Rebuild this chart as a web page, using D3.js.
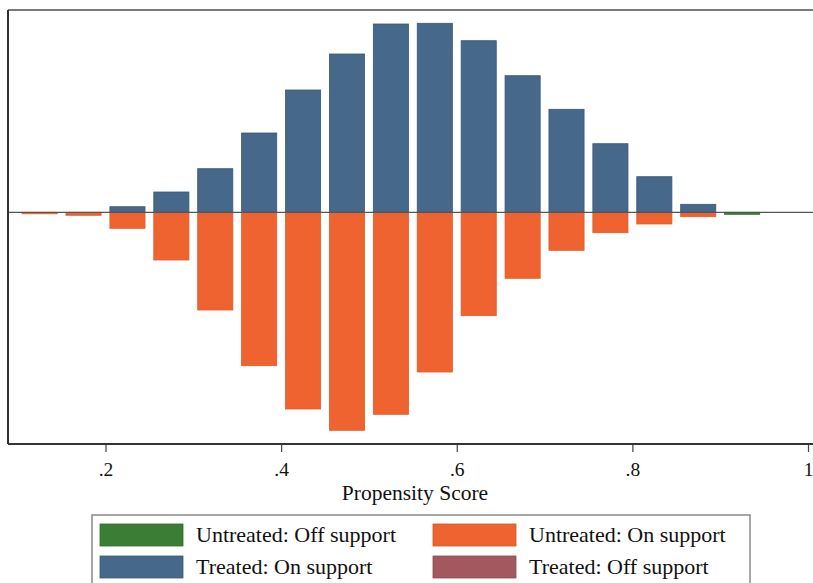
<!DOCTYPE html>
<html>
<head>
<meta charset="utf-8">
<script src="https://cdn.jsdelivr.net/npm/d3@7"></script>
<style>
  html, body { margin: 0; padding: 0; background: #fff; }
  svg { display: block; }
  text { font-family: "Liberation Serif", "Times New Roman", serif; fill: #111; }
</style>
</head>
<body>
<svg id="chart" width="813" height="583"></svg>
<script>
// Propensity score bins (bin midpoints, width 0.05)
const binMid = [0.125, 0.175, 0.225, 0.275, 0.325, 0.375, 0.425, 0.475, 0.525,
                0.575, 0.625, 0.675, 0.725, 0.775, 0.825, 0.875, 0.925];
// Density of each group per bin (drawn up for treated, down for untreated)
const treatedOn    = [0, 0, 0.56, 2.03, 4.36, 7.93, 12.23, 15.83, 18.83,
                      18.9, 17.16, 13.66, 10.3, 6.86, 3.56, 0.8, 0];
const treatedOff   = [0, 0, 0, 0, 0, 0, 0, 0, 0, 0, 0, 0, 0, 0, 0, 0, 0];
const untreatedOn  = [0.15, 0.3, 1.6, 4.77, 9.77, 15.34, 19.67, 21.8, 20.2,
                      15.97, 10.34, 6.6, 3.8, 2.04, 1.17, 0.44, 0];
const untreatedOff = [0, 0, 0, 0, 0, 0, 0, 0, 0, 0, 0, 0, 0, 0, 0, 0, 0.2];
const xTicks = [0.2, 0.4, 0.6, 0.8, 1];
const xTickLabels = [".2", ".4", ".6", ".8", "1"];
const xTitle = "Propensity Score";
const legendItems = [
  { label: "Untreated: Off support", color: "#3b7d34" },
  { label: "Untreated: On support",  color: "#ee6330" },
  { label: "Treated: On support",    color: "#46688a" },
  { label: "Treated: Off support",   color: "#a3585f" }
];

const svg = d3.select("#chart");
const plot = { left: 8, top: 10, right: 816, bottom: 444 };
const barWidth = 0.04;

const x = d3.scaleLinear().domain([0.2, 1]).range([105.5, 808]);
const y = d3.scaleLinear().domain([-23.17, 20.23]).range([plot.bottom, plot.top]);

const colors = {
  treatedOn: "#46688a", treatedOff: "#a3585f",
  untreatedOn: "#ee6330", untreatedOff: "#3b7d34"
};
const strokes = {
  treatedOn: "#3a5878", treatedOff: "#8e4a50",
  untreatedOn: "#e35a28", untreatedOff: "#336f2d"
};

const g = svg.append("g");

function drawBars(values, key, sign) {
  g.append("g").selectAll("rect")
    .data(values.map((v, i) => ({ mid: binMid[i], v })).filter(d => d.v > 0))
    .join("rect")
    .attr("x", d => x(d.mid - barWidth / 2))
    .attr("width", d => x(d.mid + barWidth / 2) - x(d.mid - barWidth / 2))
    .attr("y", d => sign > 0 ? y(d.v) : y(0))
    .attr("height", d => Math.max(1, Math.abs(y(d.v) - y(0))))
    .attr("fill", colors[key])
    .attr("stroke", strokes[key])
    .attr("stroke-width", 0.8);
}

drawBars(untreatedOn, "untreatedOn", -1);
drawBars(untreatedOff, "untreatedOff", -1);
drawBars(treatedOn, "treatedOn", 1);
drawBars(treatedOff, "treatedOff", 1);

// zero reference line
g.append("line")
  .attr("x1", plot.left).attr("x2", plot.right)
  .attr("y1", y(0)).attr("y2", y(0))
  .attr("stroke", "#555").attr("stroke-width", 1.3);

// plot frame
svg.append("line").attr("x1", plot.left).attr("x2", plot.right)
  .attr("y1", plot.top).attr("y2", plot.top)
  .attr("stroke", "#7a7a7a").attr("stroke-width", 2);
svg.append("line").attr("x1", plot.left).attr("x2", plot.left)
  .attr("y1", plot.top).attr("y2", plot.bottom)
  .attr("stroke", "#333").attr("stroke-width", 2);

// x axis
const xAxis = d3.axisBottom(x)
  .tickValues(xTicks)
  .tickFormat((d, i) => xTickLabels[i])
  .tickSize(8)
  .tickPadding(10)
  .tickSizeOuter(0);
const ax = svg.append("g")
  .attr("transform", `translate(0,${plot.bottom})`)
  .call(xAxis);
ax.select(".domain").remove();
ax.append("line").attr("x1", plot.left).attr("x2", plot.right)
  .attr("y1", 0).attr("y2", 0)
  .attr("stroke", "#333").attr("stroke-width", 2);
ax.selectAll(".tick line").attr("stroke", "#444").attr("stroke-width", 1.2);
ax.selectAll(".tick text")
  .attr("font-family", "Liberation Serif, serif")
  .attr("font-size", 19.5)
  .attr("fill", "#111");

svg.append("text")
  .attr("x", 415).attr("y", 500)
  .attr("text-anchor", "middle")
  .attr("font-size", 21.5)
  .text(xTitle);

// legend
const lg = svg.append("g");
lg.append("rect")
  .attr("x", 92).attr("y", 515)
  .attr("width", 658).attr("height", 80)
  .attr("fill", "#fff")
  .attr("stroke", "#8a8a8a").attr("stroke-width", 1.5);
const colX = [100, 433];
const rowY = [524, 556];
legendItems.forEach((it, i) => {
  const cx = colX[i % 2], cy = rowY[Math.floor(i / 2)];
  lg.append("rect")
    .attr("x", cx).attr("y", cy)
    .attr("width", 83).attr("height", 22)
    .attr("fill", it.color)
    .attr("stroke", d3.color(it.color).darker(0.4)).attr("stroke-width", 0.8);
  lg.append("text")
    .attr("x", cx + 96).attr("y", cy + 18)
    .attr("font-size", 22)
    .text(it.label);
});
</script>
</body>
</html>
